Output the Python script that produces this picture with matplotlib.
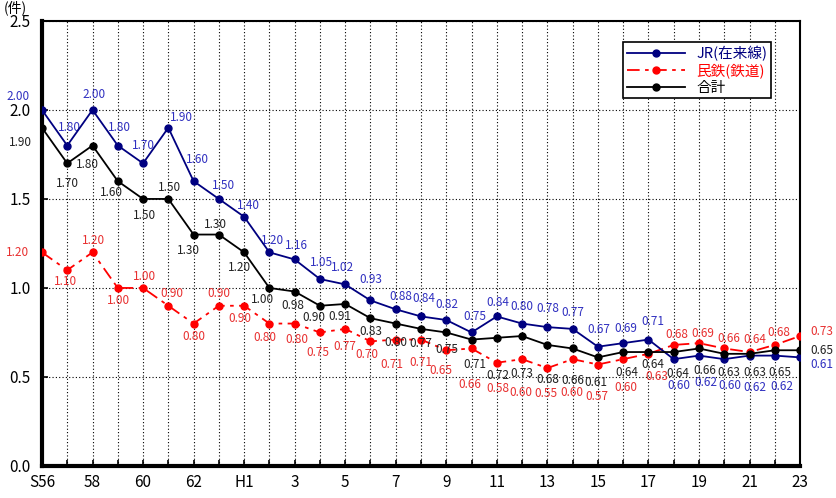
from matplotlib import pyplot as plt
import numpy as np

plt.rcParams['font.family'] = ['Noto Sans CJK JP', 'DejaVu Sans']

years = ['S56', 'S57', 'S58', 'S59', 'S60', 'S61', 'S62', 'S63'] + ['H%d' % i for i in range(1, 24)]
tick_labels = ['S56', '58', '60', '62', 'H1', '3', '5', '7', '9', '11', '13', '15', '17', '19', '21', '23']

jr = [2.00, 1.80, 2.00, 1.80, 1.70, 1.90, 1.60, 1.50, 1.40, 1.20, 1.16, 1.05, 1.02, 0.93, 0.88,
      0.84, 0.82, 0.75, 0.84, 0.80, 0.78, 0.77, 0.67, 0.69, 0.71, 0.60, 0.62, 0.60, 0.62, 0.62, 0.61]
mintetsu = [1.20, 1.10, 1.20, 1.00, 1.00, 0.90, 0.80, 0.90, 0.90, 0.80, 0.80, 0.75, 0.77, 0.70, 0.71,
            0.71, 0.65, 0.66, 0.58, 0.60, 0.55, 0.60, 0.57, 0.60, 0.63, 0.68, 0.69, 0.66, 0.64, 0.68, 0.73]
total = [1.90, 1.70, 1.80, 1.60, 1.50, 1.50, 1.30, 1.30, 1.20, 1.00, 0.98, 0.90, 0.91, 0.83, 0.80,
         0.77, 0.75, 0.71, 0.72, 0.73, 0.68, 0.66, 0.61, 0.64, 0.64, 0.64, 0.66, 0.63, 0.63, 0.65, 0.65]

# label offsets (pixels) so the numbers don't sit on top of each other
off_jr = [(-24, 13), (2, 18), (2, 15), (2, 18), (0, 18), (13, 10), (4, 22), (5, 13), (4, 11), (3, 12),
          (2, 14), (2, 17), (-3, 17), (0, 21), (5, 13), (3, 18), (1, 15), (3, 16), (1, 14), (0, 17),
          (0, 19), (0, 16), (1, 17), (3, 15), (4, 18), (5, -26), (7, -27), (6, -26), (5, -32), (7, -31),
          (22, -7)]
off_tot = [(-22, -15), (0, -20), (-5, -19), (-6, -11), (1, -17), (1, 11), (-5, -16), (-3, 10), (-5, -15),
           (-7, -12), (-2, -14), (-6, -12), (-5, -13), (0, -13), (0, -19), (0, -15), (1, -17), (3, -25),
           (1, -38), (0, -37), (0, -35), (0, -32), (-2, -25), (4, -20), (4, -12), (4, -21), (6, -22),
           (5, -19), (5, -19), (5, -22), (22, 0)]
off_min = [(-24, 0), (-2, -11), (1, 12), (1, -13), (1, 11), (4, 12), (0, -13), (0, 12), (-4, -13),
           (-5, -14), (2, -16), (-2, -20), (0, -18), (-4, -13), (-4, -25), (0, -23), (-5, -20), (-2, -36),
           (1, -26), (-1, -33), (-1, -25), (-1, -33), (-1, -32), (3, -28), (8, -23), (3, 10), (4, 10),
           (5, 10), (5, 13), (4, 12), (22, 5)]

x = np.arange(len(years))

fig = plt.figure(figsize=(8.36, 4.98), dpi=100)
ax = fig.add_axes([0.0502, 0.0643, 0.9068, 0.8937])

ax.plot(x, jr, color='#000080', lw=1.3, marker='o', ms=5, label='JR(在来線)', zorder=4)
ax.plot(x, mintetsu, color='#ff0000', lw=1.3, dashes=(7, 3, 2, 3), marker='o', ms=5,
        label='民鉄(鉄道)', zorder=3)
ax.plot(x, total, color='black', lw=1.3, marker='o', ms=5, label='合計', zorder=5)

for i in range(len(x)):
    ax.annotate('%.2f' % jr[i], (x[i], jr[i]), xytext=off_jr[i], textcoords='offset pixels',
                ha='center', va='center', fontsize=8.5, color='#3030c0', annotation_clip=False)
    ax.annotate('%.2f' % total[i], (x[i], total[i]), xytext=off_tot[i], textcoords='offset pixels',
                ha='center', va='center', fontsize=8.5, color='#222222', annotation_clip=False)
    ax.annotate('%.2f' % mintetsu[i], (x[i], mintetsu[i]), xytext=off_min[i], textcoords='offset pixels',
                ha='center', va='center', fontsize=8.5, color='#e83030', annotation_clip=False)

ax.set_xlim(0, len(x) - 1)
ax.set_ylim(0, 2.5)
ax.set_xticks(x)
ax.set_xticklabels([tick_labels[i // 2] if i % 2 == 0 else '' for i in x], fontsize=11)
ax.set_yticks([0.0, 0.5, 1.0, 1.5, 2.0, 2.5])
ax.set_yticklabels(['0.0', '0.5', '1.0', '1.5', '2.0', '2.5'], fontsize=11)
ax.tick_params(axis='both', direction='in', length=4, width=1.2, pad=6)
ax.tick_params(axis='y', pad=8)

ax.grid(color='black', linestyle=(0, (1, 2)), lw=0.8)
ax.spines['left'].set_linewidth(3)
ax.spines['bottom'].set_linewidth(3)
ax.spines['top'].set_linewidth(1.5)
ax.spines['right'].set_linewidth(1.5)

fig.text(0.004, 1.0, '(件)', fontsize=10, va='top', ha='left')

leg = ax.legend(loc='upper left', bbox_to_anchor=(0.757, 0.968), fontsize=10.5, fancybox=False,
                edgecolor='black', framealpha=1, handlelength=4, borderpad=0.25, labelspacing=0.15)
leg.get_frame().set_linewidth(1.2)
for t, c in zip(leg.get_texts(), ['#000080', '#ff0000', 'black']):
    t.set_color(c)

fig.savefig('out.png', dpi=100)
plt.close()
